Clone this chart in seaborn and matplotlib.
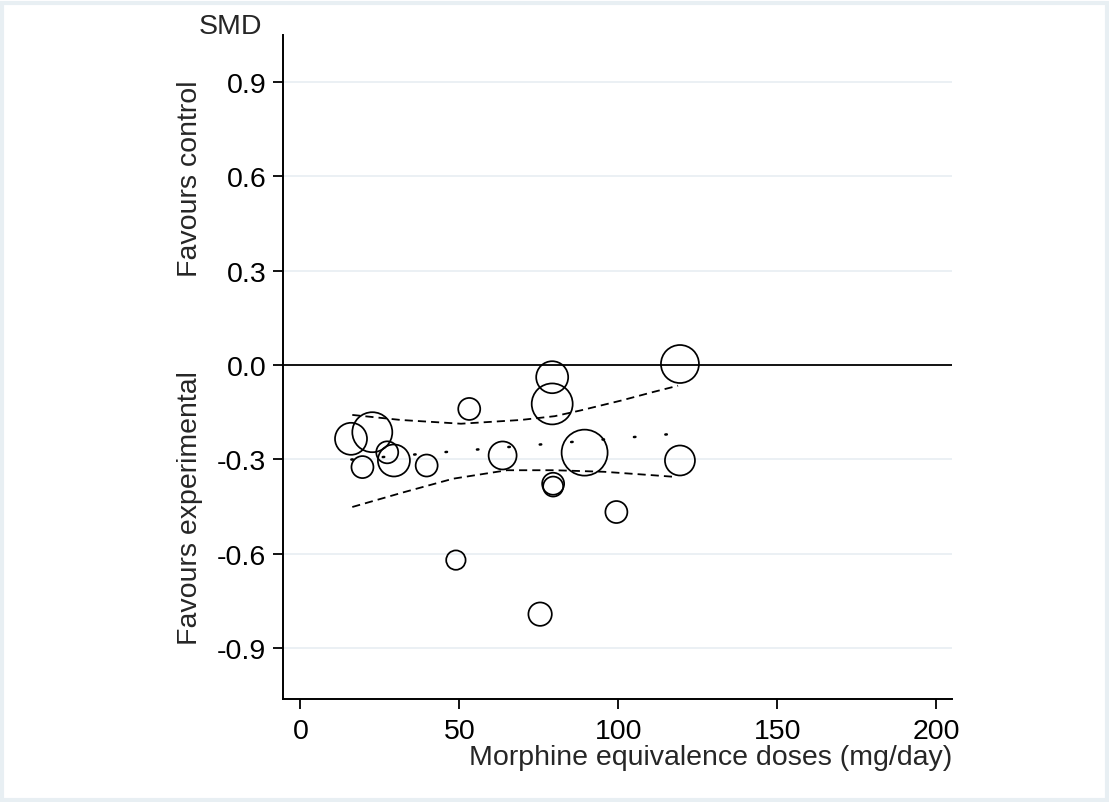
import matplotlib
matplotlib.use("Agg")
import matplotlib.pyplot as plt
import seaborn as sns
import pandas as pd
from matplotlib.patches import Rectangle

# ---- data ----
dose = [15.9, 22.6, 19.5, 29.4, 27.3, 39.7, 53.1, 48.9, 63.6, 75.4,
        79.2, 79.2, 79.5, 79.5, 89.4, 99.4, 119.4, 119.4]
smd = [-0.235, -0.214, -0.325, -0.304, -0.278, -0.320, -0.140, -0.621, -0.288, -0.793,
       -0.039, -0.124, -0.378, -0.387, -0.279, -0.468, 0.003, -0.304]
weight = [25.6, 40.0, 12.1, 25.6, 12.1, 12.1, 12.1, 9.4, 19.6, 13.7,
          25.6, 42.0, 12.1, 10.0, 52.9, 12.1, 36.1, 22.5]

fit_x = [16, 119]
fit_y = [-0.301, -0.218]

upper_x = [16.3, 31.5, 50.5, 69.4, 80.0, 88.0, 101.0, 111.0, 118.8]
upper_y = [-0.159, -0.175, -0.187, -0.175, -0.163, -0.145, -0.113, -0.086, -0.066]
lower_x = [16.3, 32.5, 48.0, 65.0, 80.0, 95.6, 111.0, 117.6]
lower_y = [-0.452, -0.405, -0.362, -0.335, -0.335, -0.340, -0.351, -0.356]

yticks = [0.9, 0.6, 0.3, 0.0, -0.3, -0.6, -0.9]
ytick_labels = ["0.9", "0.6", "0.3", "0.0", "-0.3", "-0.6", "-0.9"]
xticks = [0, 50, 100, 150, 200]
xtick_labels = ["0", "50", "100", "150", "200"]

# ---- style ----
sns.set_style("white")
plt.rcParams["font.family"] = ["Liberation Sans", "DejaVu Sans"]
plt.rcParams["axes.unicode_minus"] = False

W, H = 1109, 803
fig = plt.figure(figsize=(W / 100, H / 100), dpi=100)
ax = fig.add_axes([283 / W, 1 - 700 / H, (952 - 283) / W, (700 - 36) / H])

# grid lines at y ticks
for yv in yticks:
    if yv != 0.0:
        ax.axhline(yv, color="#e8eef2", lw=1.2, zorder=0)
ax.axhline(0.0, color="black", lw=1.3, zorder=1)

df = pd.DataFrame({"dose": dose, "smd": smd, "weight": weight})
sns.scatterplot(data=df, x="dose", y="smd", size="weight",
                sizes=(0, 60 * 20.736), size_norm=(0, 60),
                facecolors="none", edgecolor="black", linewidth=1.25,
                legend=False, ax=ax, zorder=3)
for coll in ax.collections:
    coll.set_facecolor("none")
    coll.set_edgecolor("black")

fit_df = pd.DataFrame({"x": fit_x, "y": fit_y})
up_df = pd.DataFrame({"x": upper_x, "y": upper_y})
lo_df = pd.DataFrame({"x": lower_x, "y": lower_y})
sns.lineplot(data=fit_df, x="x", y="y", color="black", lw=1.8,
             linestyle=(0, (0.6, 12)), dash_capstyle="round",
             ax=ax, estimator=None, zorder=2)
sns.lineplot(data=up_df, x="x", y="y", color="black", lw=1.3,
             linestyle=(0, (4.5, 2.8)), ax=ax, estimator=None, zorder=2)
sns.lineplot(data=lo_df, x="x", y="y", color="black", lw=1.3,
             linestyle=(0, (4.5, 2.8)), ax=ax, estimator=None, zorder=2)

ax.set_xlim(-5.5, 205.0)
ax.set_ylim(-1.063, 1.05)
ax.set_xticks(xticks)
ax.set_xticklabels(xtick_labels)
ax.set_yticks(yticks)
ax.set_yticklabels(ytick_labels)
ax.tick_params(axis="both", which="major", direction="out", length=7,
               width=1.3, color="black", labelsize=20.5, labelcolor="black",
               bottom=True, left=True)
ax.tick_params(axis="x", pad=6.5)
ax.tick_params(axis="y", pad=5)
ax.set_xlabel("")
ax.set_ylabel("")
for side in ["top", "right"]:
    ax.spines[side].set_visible(False)
for side in ["left", "bottom"]:
    ax.spines[side].set_color("black")
    ax.spines[side].set_linewidth(1.4)

# axis titles
fig.text(262 / W, 1 - 27.5 / H, "SMD", ha="right", va="center", fontsize=20.5)
fig.text(952 / W, 1 - 745 / H, "Morphine equivalence doses (mg/day)",
         ha="right", va="top", fontsize=20.5)
ax.annotate("Favours control", xy=(190 / W, 0.597),
            xycoords=("figure fraction", "data"), rotation=90,
            ha="center", va="center", fontsize=20.5)
ax.annotate("Favours experimental", xy=(190 / W, -0.451),
            xycoords=("figure fraction", "data"), rotation=90,
            ha="center", va="center", fontsize=20.5)

# light frame around the figure
fig.patches.append(Rectangle((0.002, 0.002), 0.996, 0.993, transform=fig.transFigure,
                             fill=False, edgecolor="#e8eff3", lw=3, zorder=0))

fig.savefig("out.png", dpi=100)
